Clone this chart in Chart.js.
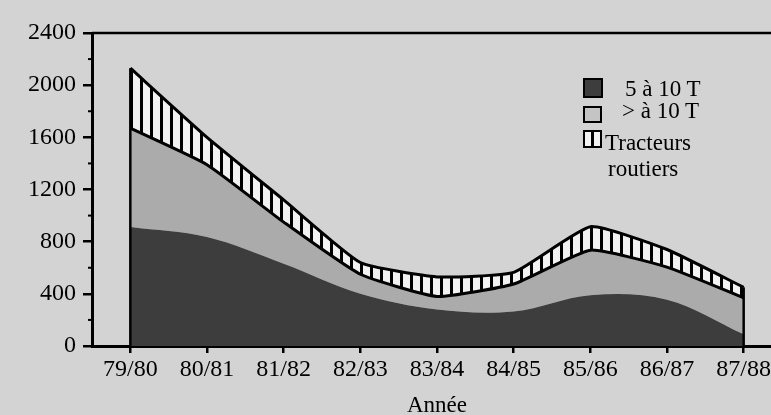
<!DOCTYPE html>
<html>
<head>
<meta charset="utf-8">
<script src="https://cdn.jsdelivr.net/npm/chart.js@4.4.1/dist/chart.umd.min.js"></script>
<style>
  html, body { margin: 0; padding: 0; background: #d3d3d3; }
  #crop { position: relative; width: 771px; height: 415px; overflow: hidden; }
  #box { position: absolute; left: 0; top: 0; width: 782px; height: 420px; }
  .lg { position: absolute; font-family: 'Liberation Serif', serif; font-size: 23px; line-height: 23px; color: #000; white-space: nowrap; }
  .sw { position: absolute; box-sizing: border-box; border: 2px solid #000; }
</style>
</head>
<body>
<div id="crop">
  <div id="box"><canvas id="c"></canvas></div>
  <div class="sw" style="left:583px;top:78px;width:20px;height:20px;background:#3d3d3d"></div>
  <div class="sw" style="left:583px;top:106px;width:19px;height:17px;background:#c4c4c4"></div>
  <div class="sw" style="left:583px;top:130px;width:19px;height:18px;background:linear-gradient(90deg,#f2f2f2 0 6px,#000 6px 9px,#f2f2f2 9px)"></div>
  <div class="lg" style="left:625px;top:77px">5 à 10 T</div>
  <div class="lg" style="left:622px;top:99px">&gt; à 10 T</div>
  <div class="lg" style="left:605px;top:131px">Tracteurs</div>
  <div class="lg" style="left:608px;top:157px">routiers</div>
</div>
<script>
var years = ['79/80','80/81','81/82','82/83','83/84','84/85','85/86','86/87','87/88'];
// stacked layers
var t5a10   = [912, 835, 630, 400, 280, 265, 390, 355, 90];
var plus10  = [758, 555, 320, 150, 100, 210, 345, 250, 280];
var tracteurs = [460, 210, 170, 90, 150, 90, 180, 135, 80];
var yTicks = [0, 400, 800, 1200, 1600, 2000, 2400];

var FONT = { family: 'Liberation Serif', size: 24 };

function hatch() {
  var p = document.createElement('canvas');
  p.width = 10; p.height = 10;
  var g = p.getContext('2d');
  g.fillStyle = '#f2f2f2'; g.fillRect(0, 0, 10, 10);
  g.fillStyle = '#000'; g.fillRect(0, 0, 3, 10);
  return g.createPattern(p, 'repeat');
}

var frame = {
  id: 'frame',
  afterDraw: function(chart) {
    var ctx = chart.ctx, a = chart.chartArea, ys = chart.scales.y;
    ctx.save();
    ctx.strokeStyle = '#000';
    // top rule
    ctx.lineWidth = 2.5;
    ctx.beginPath(); ctx.moveTo(a.left, a.top); ctx.lineTo(chart.width, a.top); ctx.stroke();
    // minor ticks halfway between labelled ticks
    ctx.lineWidth = 2;
    for (var i = 0; i < yTicks.length - 1; i++) {
      var y = ys.getPixelForValue((yTicks[i] + yTicks[i + 1]) / 2);
      ctx.beginPath(); ctx.moveTo(a.left - 4, y); ctx.lineTo(a.left, y); ctx.stroke();
    }
    // closing edges of the stacked area
    var pts = chart.getDatasetMeta(2).data;
    ctx.lineWidth = 2.5;
    [pts[0], pts[pts.length - 1]].forEach(function(p) {
      ctx.beginPath(); ctx.moveTo(p.x, a.bottom); ctx.lineTo(p.x, p.y); ctx.stroke();
    });
    ctx.restore();
  }
};

new Chart(document.getElementById('c'), {
  type: 'line',
  data: {
    labels: years,
    datasets: [
      { label: '5 à 10 T', data: t5a10, fill: 'origin', backgroundColor: '#3d3d3d',
        borderWidth: 0, pointRadius: 0, tension: 0.35 },
      { label: '> à 10 T', data: plus10, fill: '-1', backgroundColor: '#ababab',
        borderColor: '#000', borderWidth: 3, pointRadius: 0, tension: 0.15 },
      { label: 'Tracteurs routiers', data: tracteurs, fill: '-1', backgroundColor: hatch(),
        borderColor: '#000', borderWidth: 3, pointRadius: 0, tension: 0.15 }
    ]
  },
  options: {
    responsive: true, maintainAspectRatio: false, animation: false,
    layout: { padding: { top: 33, left: 0, right: 0, bottom: 0 } },
    plugins: { legend: { display: false }, tooltip: { enabled: false } },
    scales: {
      x: {
        offset: true,
        grid: { offset: false, drawOnChartArea: false, color: '#000', tickLength: 7, lineWidth: 2.5 },
        border: { color: '#000', width: 3 },
        ticks: { color: '#000', font: FONT, padding: 2, maxRotation: 0 },
        title: { display: true, text: 'Année', color: '#000', font: { family: 'Liberation Serif', size: 23 }, padding: 0 },
        afterFit: function(s) { s.height = 74; }
      },
      y: {
        stacked: true, min: 0, max: 2400,
        afterBuildTicks: function(s) { s.ticks = yTicks.map(function(v){ return { value: v }; }); },
        grid: { drawOnChartArea: false, color: '#000', tickLength: 9, lineWidth: 2.5 },
        border: { color: '#000', width: 3 },
        ticks: { color: '#000', font: FONT, padding: 7, callback: function(v) { return String(v); } },
        afterFit: function(s) { s.width = 92; }
      }
    }
  },
  plugins: [frame]
});
</script>
</body>
</html>
